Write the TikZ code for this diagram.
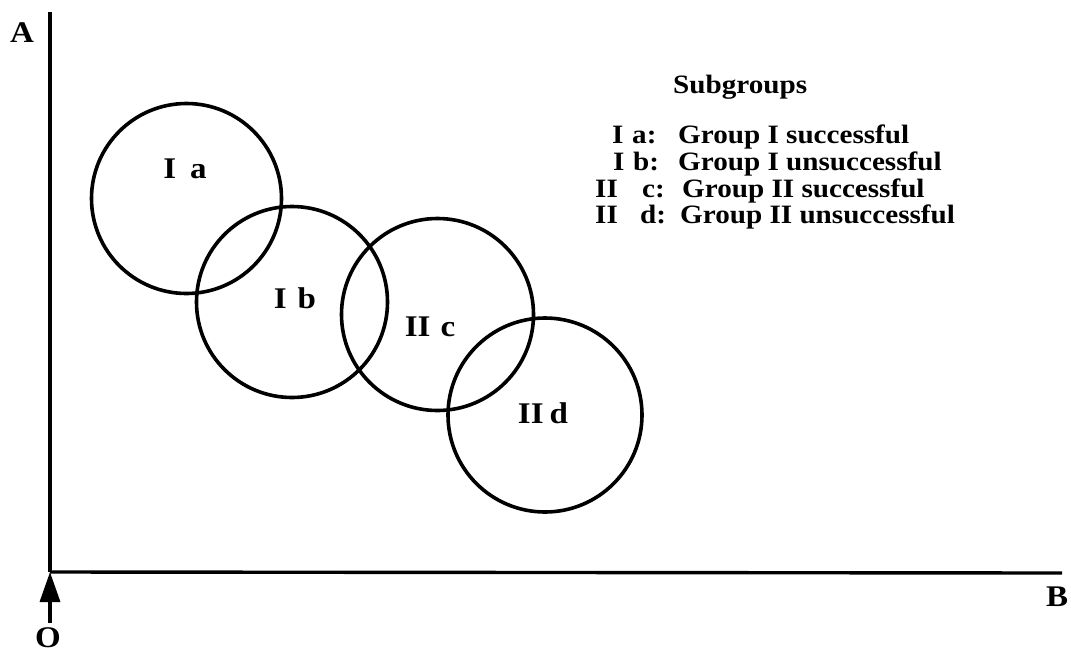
\documentclass[tikz,border=0pt]{standalone}
\usepackage{fontspec}
\setmainfont{Liberation Serif}
\newfontfamily\wideserif[FakeStretch=1.1]{Liberation Serif}
\usetikzlibrary{arrows.meta}
\begin{document}
\begin{tikzpicture}[x=1pt,y=-1pt,
  ring/.style={circle,draw,line width=3.6pt,inner sep=0pt,minimum size=#1},
  lbl/.style={font=\wideserif\bfseries\fontsize{30}{30}\selectfont,inner sep=0pt},
  leg/.style={font=\wideserif\bfseries\fontsize{26.5}{26.5}\selectfont,inner sep=0pt,anchor=base west},
  axis/.style={line width=3.4pt}]
\useasboundingbox (0,0) rectangle (1071,654);
% axes
\coordinate (top) at (50,12);
\coordinate (orig) at (50,572);
\coordinate (right) at (1062,573);
\coordinate (tail) at (50,623);
\draw[axis] (top) -- (orig);
\draw[axis] (orig) -- (right);
\draw[axis,-{Triangle[length=30pt,width=20pt]}] (tail) -- (orig);
\node[lbl] (A) at (22,33) {A};
\node[lbl] (B) at (1057,597) {B};
\node[lbl] (O) at (48,638) {O};
% subgroup circles
\node[ring=190pt] (ca) at (186.5,198.5) {};
\node[ring=191pt] (cb) at (292,302) {};
\node[ring=192pt] (cc) at (437.5,314.5) {};
\node[ring=194pt] (cd) at (545,415) {};
\node[lbl] (la) at (185,169) {I\hspace{14pt}a};
\node[lbl] (lb) at (295,298) {I\hspace{11pt}b};
\node[lbl] (lc) at (430,327) {II\hspace{10pt}c};
\node[lbl] (ld) at (543,413) {II\hspace{6pt}d};
% legend
\node[leg] (title) at (673,93) {Subgroups};
\node[leg] (n1) at (612,143) {I};
\node[leg] (n2) at (613,170) {I};
\node[leg] (n3) at (595,197) {II};
\node[leg] (n4) at (595,223) {II};
\node[leg] (k1) at (632,143) {a:};
\node[leg] (k2) at (633,170) {b:};
\node[leg] (k3) at (642,197) {c:};
\node[leg] (k4) at (640,223) {d:};
\node[leg] (t1) at (678,143) {Group I successful};
\node[leg] (t2) at (678,170) {Group I unsuccessful};
\node[leg] (t3) at (682,197) {Group II successful};
\node[leg] (t4) at (680,223) {Group II unsuccessful};
\end{tikzpicture}
\end{document}
